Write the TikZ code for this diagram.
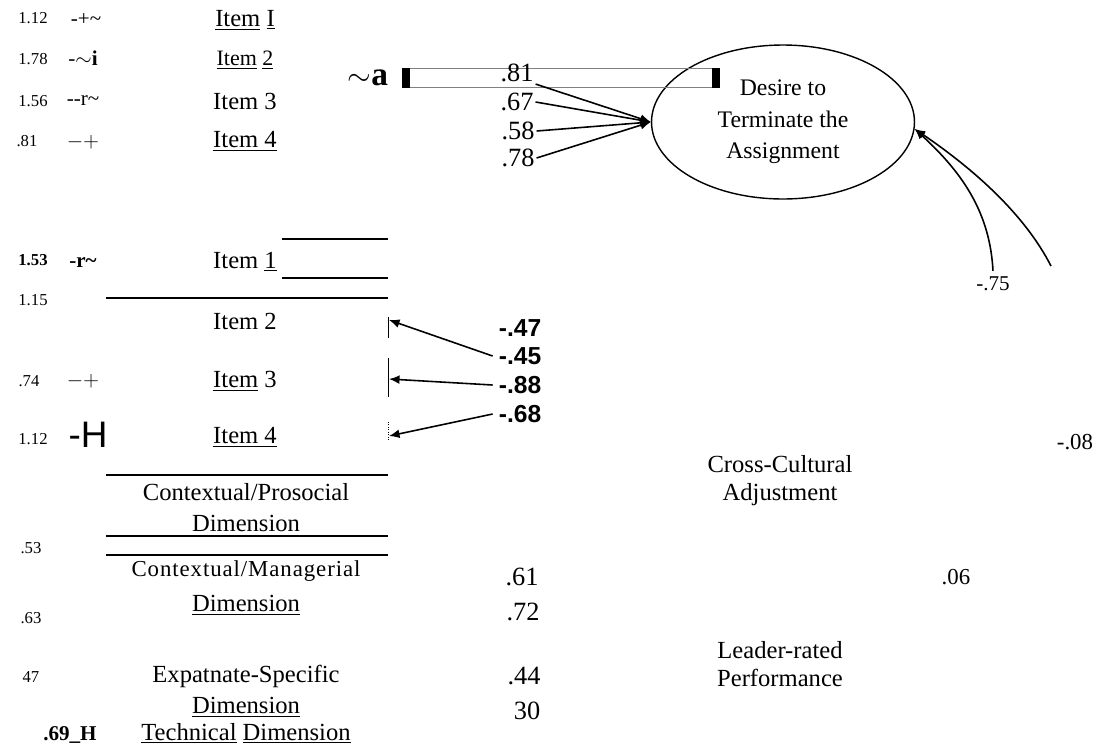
\documentclass[tikz,border=0pt]{standalone}
\usepackage{fontspec}
\setmainfont{Liberation Serif}
\newfontfamily\arialfont{Liberation Sans}
\usetikzlibrary{arrows.meta,shapes.geometric}

\begin{document}
\begin{tikzpicture}[x=0.02cm,y=-0.02cm,
    num/.style={font=\fontsize{9.5}{11}\selectfont},
    sym/.style={font=\fontsize{12}{14}\selectfont},
    itm/.style={font=\fontsize{14}{16}\selectfont,inner sep=1.5pt},
    load/.style={font=\fontsize{15}{17}\selectfont,inner sep=1pt},
    sload/.style={font=\arialfont\bfseries\fontsize{14}{16}\selectfont},
    rule/.style={line width=1.2pt},
    path/.style={line width=0.9pt,-{Latex[length=6pt,width=5pt]}}]
    \useasboundingbox (0,0) rectangle (1096,745);

    % left column numbers
    \node[num] (e1) at (33,18) {1.12};
    \node[num] (e2) at (33,59) {1.78};
    \node[num] (e3) at (33,101) {1.56};
    \node[num] (e4) at (27,141) {.81};
    \node[num,font=\bfseries\fontsize{9.5}{11}\selectfont] (e5) at (33,260) {1.53};
    \node[num] (e6) at (33,300) {1.15};
    \node[num] (e7) at (29,381) {.74};
    \node[num] (e8) at (33,439) {1.12};
    \node[num] (e9) at (31,548) {.53};
    \node[num] (e10) at (31,618) {.63};
    \node[num] (e11) at (31,677) {47};
    \node[num,font=\bfseries\fontsize{12}{13}\selectfont] (e12) at (70,735) {.69\_H};

    % garbled marks
    \node[sym] (s1) at (86,20) {-+\textasciitilde};
    \node[sym] (s2) at (83,58) {-$\sim$\textbf{i}};
    \node[sym] (s3) at (83,101) {-{}-r\textasciitilde};
    \node[sym] (s4) at (83,142) {$-{+}$};
    \node[sym,font=\bfseries\fontsize{12}{14}\selectfont] (s5) at (83,262) {-r\textasciitilde};
    \node[sym] (s6) at (83,381) {$-{+}$};
    \node[font=\arialfont\fontsize{21}{23}\selectfont] (s7) at (88,435) {-H};

    % items
    \node[itm] (i1) at (245,20) {\underline{Item} \underline{I}};
    \node[itm,font=\fontsize{12.5}{14}\selectfont] (i2) at (245,60) {\underline{Item} \underline{2}};
    \node[itm] (i3) at (245,101) {Item 3};
    \node[itm] (i4) at (245,141) {\underline{Item 4}};
    \node[itm] (j1) at (245,262) {Item \underline{1}};
    \node[itm] (j2) at (245,321) {Item 2};
    \node[itm] (j3) at (245,381) {\underline{Item} 3};
    \node[itm] (j4) at (245,437) {\underline{Item 4}};

    \draw[rule] (282,239) -- (388,239);
    \draw[rule] (282,278) -- (388,278);
    \draw[rule] (106,298) -- (388,298);

    % dimensions
    \node[itm] (d1) at (246,492) {Contextual/Prosocial};
    \node[itm] (d1b) at (246,523) {Dimension};
    \node[itm,font=\fontsize{13}{15}\selectfont\addfontfeatures{LetterSpace=4}] (d2) at (246,571) {Contextual/Managerial};
    \node[itm] (d2b) at (246,605) {\underline{Dimension}};
    \node[itm] (d3) at (246,676) {Expatnate-Specific};
    \node[itm] (d3b) at (246,707) {\underline{Dimension}};
    \node[itm,anchor=base] (d4) at (246,740) {\underline{Technical} \underline{Dimension}};
    \draw[rule] (106,475) -- (388,475);
    \draw[rule] (106,536) -- (388,536);
    \draw[rule] (106,555) -- (388,555);

    \node[load] (p1) at (522,577) {.61};
    \node[load] (p2) at (523,612) {.72};
    \node[load] (p3) at (524,676) {.44};
    \node[load] (p4) at (527,711) {30};

    % desire to terminate
    \node[ellipse,draw,line width=0.8pt,minimum width=5.26cm,minimum height=3.08cm,
        inner sep=0pt,align=center,font=\fontsize{13.5}{18}\selectfont] (dtta) at (783,122)
        {Desire to\\Terminate the\\Assignment};

    \node[font=\fontsize{19}{21}\selectfont,inner sep=0pt] (tila) at (368,78) {$\sim$\textbf{a}};
    \draw[gray,thin] (410,68) -- (712,68);
    \draw[gray,thin] (410,87) -- (712,87);
    \fill (402,68) rectangle (410,88);
    \fill (712,68) rectangle (720,88);

    \node[load] (l81) at (517,73) {.81};
    \node[load] (l67) at (517,102) {.67};
    \node[load] (l58) at (518,131) {.58};
    \node[load] (l78) at (518,158) {.78};
    \draw[path] (l81.south east) -- (dtta.west);
    \draw[path] (l67.east) -- (dtta.west);
    \draw[path] (l58.east) -- (dtta.west);
    \draw[path] (l78.east) -- (dtta.west);

    % adjustment loadings
    \node[sload] (m47) at (520,328) {-.47};
    \node[sload] (m45) at (520,356) {-.45};
    \node[sload] (m88) at (520,385) {-.88};
    \node[sload] (m68) at (520,414) {-.68};
    \draw (388,317) -- (388,338);
    \draw (388,358) -- (388,397);
    \draw[densely dotted] (388,422) -- (388,440);
    \coordinate (t2) at (389,320);
    \coordinate (t3) at (389,379);
    \coordinate (t4) at (389,436);
    \draw[path] (m45.west) -- (t2);
    \draw[path] (m88.west) -- (t3);
    \draw[path] (m68.west) -- (t4);

    % right side
    \node[font=\fontsize{12}{14}\selectfont] (l75) at (993,284) {-.75};
    \coordinate (c2) at (1051,266);
    \draw[path] (l75.north) .. controls (990,215) and (965,175) .. (dtta.-3);
    \draw[path] (c2) .. controls (1025,215) and (975,170) .. (dtta.-3);
    \node[font=\fontsize{13}{15}\selectfont] (l08) at (1075,442) {-.08};
    \node[font=\fontsize{14}{16}\selectfont,align=center] (cca) at (780,481) {Cross-Cultural\\Adjustment};
    \node[font=\fontsize{13}{15}\selectfont] (l06) at (956,577) {.06};
    \node[font=\fontsize{14}{16}\selectfont,align=center] (lrp) at (780,664) {Leader-rated\\Performance};
\end{tikzpicture}
\end{document}
